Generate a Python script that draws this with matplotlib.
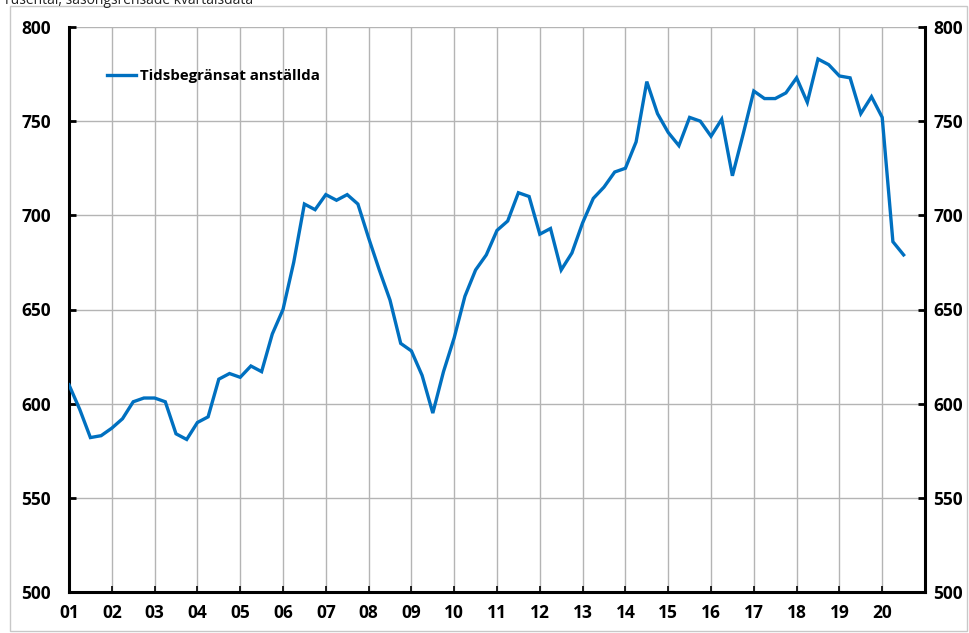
import matplotlib
matplotlib.use("Agg")
import matplotlib.pyplot as plt
import numpy as np
from matplotlib.patches import Rectangle

plt.rcParams['font.family'] = ['Open Sans', 'DejaVu Sans']

title = "Tusental, säsongsrensade kvartalsdata"
series_name = "Tidsbegränsat anställda"
start_year = 2001
values = [
    610, 597, 582, 583,   # 2001
    587, 592, 601, 603,   # 2002
    603, 601, 584, 581,   # 2003
    590, 593, 613, 616,   # 2004
    614, 620, 617, 637,   # 2005
    650, 675, 706, 703,   # 2006
    711, 708, 711, 706,   # 2007
    688, 671, 655, 632,   # 2008
    628, 615, 595, 617,   # 2009
    635, 657, 671, 679,   # 2010
    692, 697, 712, 710,   # 2011
    690, 693, 671, 680,   # 2012
    696, 709, 715, 723,   # 2013
    725, 739, 771, 754,   # 2014
    744, 737, 752, 750,   # 2015
    742, 751, 721, 743,   # 2016
    766, 762, 762, 765,   # 2017
    773, 760, 783, 780,   # 2018
    774, 773, 754, 763,   # 2019
    752, 686, 679,        # 2020
]
years = list(range(2001, 2021))
year_labels = [f"{y % 100:02d}" for y in years]
y_ticks = [500, 550, 600, 650, 700, 750, 800]
y_labels = [str(v) for v in y_ticks]

x = start_year + np.arange(len(values)) * 0.25

fig = plt.figure(figsize=(9.69, 6.33), dpi=100)
rect = [69/969, 1-592/633, (925-69)/969, (592-27)/633]
ax = fig.add_axes(rect)

# outer chart border
fig.patches.append(Rectangle((10/969, 0.003), (967-10)/969, 625/633,
                             transform=fig.transFigure, fill=False,
                             edgecolor='#c8c8c8', linewidth=1.0))

ax.plot(x, values, color='#0070C0', linewidth=2.4, label=series_name,
        solid_joinstyle='miter', zorder=3)

ax.set_xlim(2001, 2021)
ax.set_ylim(500, 800)
ax.set_xticks(years)
ax.set_xticklabels(year_labels, fontweight='bold', fontsize=12.5)
ax.set_yticks(y_ticks)
ax.set_yticklabels(y_labels, fontweight='bold', fontsize=12.5)

ax.grid(True, color='#b4b4b4', linewidth=1.0, zorder=0)
ax.set_axisbelow(True)

for s in ['left', 'right', 'bottom']:
    ax.spines[s].set_linewidth(2.2)
    ax.spines[s].set_color('black')
ax.spines['top'].set_visible(False)

ax.tick_params(axis='y', direction='in', length=5, width=2,
               left=True, right=False, pad=13)
ax.tick_params(axis='x', direction='in', length=4, width=1.2, pad=9)

# right-hand axis labels
ax2 = ax.twinx()
ax2.set_ylim(500, 800)
ax2.set_yticks(y_ticks)
ax2.set_yticklabels(y_labels, fontweight='bold', fontsize=12.5)
ax2.tick_params(axis='y', direction='in', length=5, width=2, pad=6)
for s in ax2.spines.values():
    s.set_visible(False)

leg = ax.legend(loc='upper left', bbox_to_anchor=(0.029, 0.95), frameon=False,
                handlelength=1.9, handletextpad=0.3,
                prop={'weight': 'bold', 'size': 10.8})

fig.text(3/969, 1.0, title, fontsize=10, ha='left', va='center', color='#222222')

fig.savefig("out.png", dpi=100)
